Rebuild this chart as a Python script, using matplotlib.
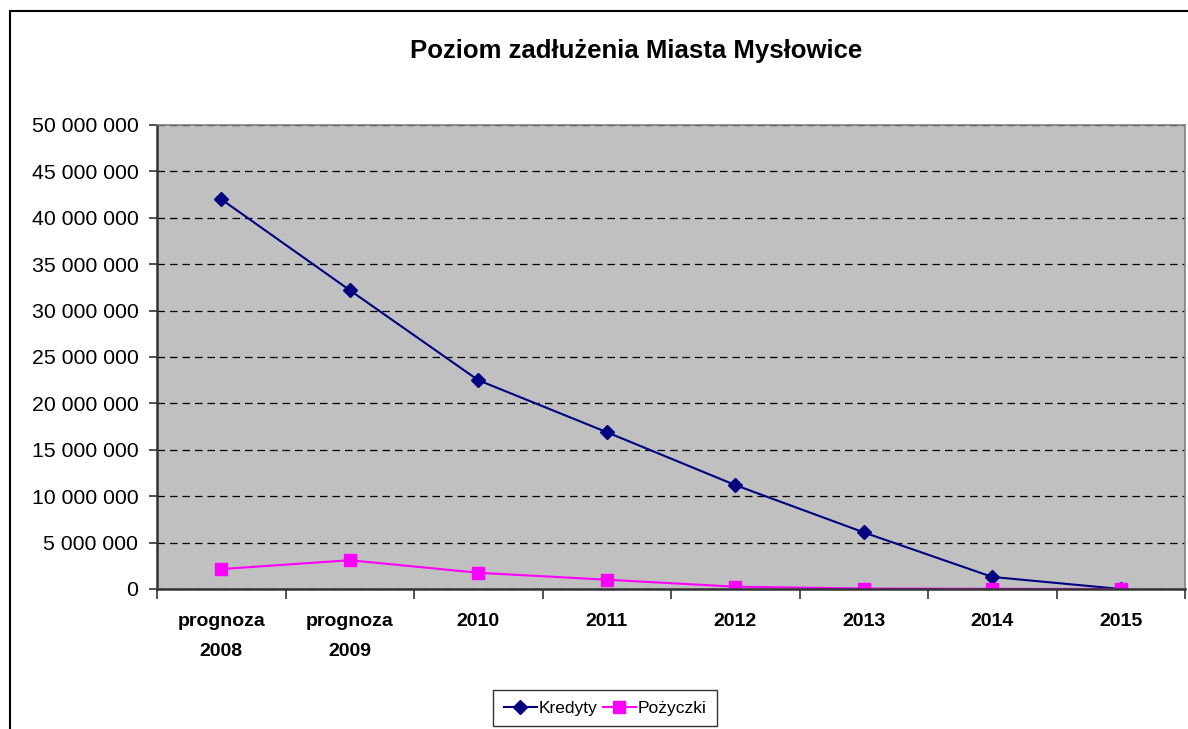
import matplotlib.pyplot as plt
from matplotlib.patches import Rectangle
from matplotlib.ticker import FuncFormatter, MultipleLocator
import numpy as np

plt.rcParams['font.family'] = ['Liberation Sans', 'DejaVu Sans']

categories = ['prognoza\n2008', 'prognoza\n2009', '2010', '2011', '2012', '2013', '2014', '2015']
kredyty = [42_000_000, 32_200_000, 22_500_000, 16_900_000, 11_200_000, 6_100_000, 1_300_000, 0]
pozyczki = [2_150_000, 3_100_000, 1_750_000, 1_000_000, 250_000, 50_000, 20_000, 0]

fig = plt.figure(figsize=(11.88, 7.29), dpi=100)

# outer chart frame (runs off the right and bottom edges)
fig.patches.append(Rectangle((10 / 1188, -0.1), 1.2, 1 - 11 / 729 + 0.1,
                             transform=fig.transFigure, fill=False,
                             edgecolor='black', linewidth=1.5))

ax = fig.add_axes([157 / 1188, 1 - 589 / 729, 1028 / 1188, 464 / 729])
ax.set_facecolor('#C0C0C0')

x = np.arange(len(categories))
ax.plot(x, kredyty, color='#000080', marker='D', markersize=7, linewidth=1.5, label='Kredyty')
ax.plot(x, pozyczki, color='#FF00FF', marker='s', markersize=8, linewidth=1.5, label='Pożyczki')

ax.set_xlim(-0.5, len(categories) - 0.5)
ax.set_ylim(0, 50_000_000)
ax.yaxis.set_major_locator(MultipleLocator(5_000_000))
ax.yaxis.set_major_formatter(FuncFormatter(lambda v, p: f'{int(v):,}'.replace(',', ' ')))
ax.grid(axis='y', color='black', linestyle=(0, (6, 4)), linewidth=0.9)

ax.set_xticks(x)
ax.set_xticklabels(categories, fontsize=14, fontweight='bold', linespacing=2.0)
ax.set_xticks(np.arange(-0.5, len(categories)), minor=True)
ax.tick_params(axis='x', which='major', length=0, pad=17)
ax.tick_params(axis='x', which='minor', length=7, width=1.2, color='#333333')
ax.tick_params(axis='y', length=6, width=1.2, color='#333333', labelsize=15.3, pad=7.5)

for side in ['left', 'bottom']:
    ax.spines[side].set_color('#333333')
    ax.spines[side].set_linewidth(1.8)
for side in ['top', 'right']:
    ax.spines[side].set_color('#808080')
    ax.spines[side].set_linewidth(1.2)

fig.text(636 / 1188, 1 - 51 / 729, 'Poziom zadłużenia Miasta Mysłowice',
         ha='center', va='center', fontsize=18.5, fontweight='bold')

leg = fig.legend(loc='center', bbox_to_anchor=(605 / 1188, 1 - 708 / 729), ncol=2,
                 fontsize=12.5, frameon=True, fancybox=False, handlelength=1.9,
                 handletextpad=0.1, columnspacing=0.3, borderpad=0.6)
leg.get_frame().set_edgecolor('black')
leg.get_frame().set_linewidth(1.0)

fig.savefig('out.png', dpi=100)
